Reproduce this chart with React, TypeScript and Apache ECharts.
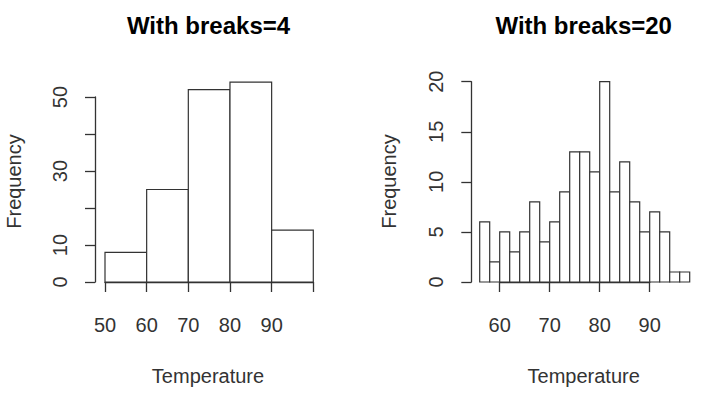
import React, { useEffect, useRef } from "react";
import * as echarts from "echarts";

const breaks4: number[] = [50, 60, 70, 80, 90, 100];
const counts4: number[] = [8, 25, 52, 54, 14];
const breaks20: number[] = [56, 58, 60, 62, 64, 66, 68, 70, 72, 74, 76, 78, 80, 82, 84, 86, 88, 90, 92, 94, 96, 98];
const counts20: number[] = [6, 2, 5, 3, 5, 8, 4, 6, 9, 13, 13, 11, 20, 9, 12, 8, 5, 7, 5, 1, 1];
const yLabels4: number[] = [0, 10, 30, 50];
const xLabels4: number[] = [50, 60, 70, 80, 90];
const titles: string[] = ["With breaks=4", "With breaks=20"];
const xName = "Temperature";
const yName = "Frequency";

const FONT = "'Liberation Sans', Arial, sans-serif";
const INK = "#333";
const FS = 20;

function toBins(br: number[], cnt: number[]) {
  return cnt.map((c, i) => [br[i], br[i + 1], c]);
}

const renderRect = (params: any, api: any) => {
  const p0 = api.coord([api.value(0), 0]);
  const p1 = api.coord([api.value(1), api.value(2)]);
  return {
    type: "rect",
    shape: { x: p0[0], y: p1[1], width: p1[0] - p0[0], height: p0[1] - p1[1] },
    style: { fill: "#fff", stroke: INK, lineWidth: 1.2 },
  };
};

const axisLineStyle = { show: true, lineStyle: { color: INK, width: 1.3 } };
const tickStyle = { show: true, length: 10, inside: false, lineStyle: { color: INK, width: 1.3 } };

export default function App() {
  const ref = useRef<HTMLDivElement>(null);
  useEffect(() => {
    document.body.style.margin = "0";
    const chart = echarts.init(ref.current!, null, { renderer: "svg" });
    const option: any = {
      animation: false,
      backgroundColor: "#fff",
      grid: [
        { left: 105, top: 97, width: 208.3, height: 185 },
        { left: 499.7, top: 81.7, width: 150, height: 200.3 },
      ],
      xAxis: [
        {
          gridIndex: 0, type: "value", min: 50, max: 100, interval: 10, position: "bottom", offset: 9.5,
          axisLine: axisLineStyle, axisTick: tickStyle, splitLine: { show: false },
          axisLabel: {
            margin: 23, fontSize: FS, color: INK, fontFamily: FONT,
            showMinLabel: true, showMaxLabel: true,
            formatter: (v: number) => (xLabels4.includes(v) ? String(v) : ""),
          },
        },
        {
          gridIndex: 1, type: "value", min: 60, max: 90, interval: 10, position: "bottom", offset: 9.5,
          axisLine: axisLineStyle, axisTick: tickStyle, splitLine: { show: false },
          axisLabel: { margin: 23, fontSize: FS, color: INK, fontFamily: FONT, showMinLabel: true, showMaxLabel: true },
        },
      ],
      yAxis: [
        {
          gridIndex: 0, type: "value", min: 0, max: 50, interval: 10, position: "left", offset: 10,
          axisLine: axisLineStyle, axisTick: tickStyle, splitLine: { show: false },
          axisLabel: {
            rotate: 90, margin: 25, fontSize: FS, color: INK, fontFamily: FONT,
            showMinLabel: true, showMaxLabel: true,
            formatter: (v: number) => (yLabels4.includes(v) ? String(v) : ""),
          },
        },
        {
          gridIndex: 1, type: "value", min: 0, max: 20, interval: 5, position: "left", offset: 28.4,
          axisLine: axisLineStyle, axisTick: tickStyle, splitLine: { show: false },
          axisLabel: { rotate: 90, margin: 25, fontSize: FS, color: INK, fontFamily: FONT, showMinLabel: true, showMaxLabel: true },
        },
      ],
      series: [
        {
          type: "custom", xAxisIndex: 0, yAxisIndex: 0, clip: false,
          data: toBins(breaks4, counts4), encode: { x: [0, 1], y: 2 }, renderItem: renderRect,
        },
        {
          type: "custom", xAxisIndex: 1, yAxisIndex: 1, clip: false,
          data: toBins(breaks20, counts20), encode: { x: [0, 1], y: 2 }, renderItem: renderRect,
        },
      ],
      graphic: [
        { type: "text", x: 208.5, y: 25, style: { text: titles[0], font: `bold 24px ${FONT}`, fill: "#000", align: "center", verticalAlign: "middle" } },
        { type: "text", x: 583.7, y: 25, style: { text: titles[1], font: `bold 24px ${FONT}`, fill: "#000", align: "center", verticalAlign: "middle" } },
        { type: "text", x: 208, y: 376, style: { text: xName, font: `${FS}px ${FONT}`, fill: INK, align: "center", verticalAlign: "middle" } },
        { type: "text", x: 583.7, y: 376, style: { text: xName, font: `${FS}px ${FONT}`, fill: INK, align: "center", verticalAlign: "middle" } },
        { type: "text", x: 14, y: 181.5, rotation: Math.PI / 2, style: { text: yName, font: `${FS}px ${FONT}`, fill: INK, align: "center", verticalAlign: "middle" } },
        { type: "text", x: 388.7, y: 181.5, rotation: Math.PI / 2, style: { text: yName, font: `${FS}px ${FONT}`, fill: INK, align: "center", verticalAlign: "middle" } },
      ],
    };
    chart.setOption(option);
    return () => chart.dispose();
  }, []);
  return <div ref={ref} style={{ width: 715, height: 399 }} />;
}
